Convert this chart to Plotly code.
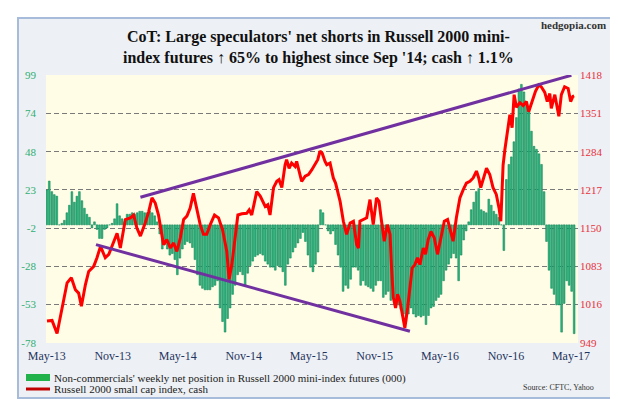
import datetime as dt
import numpy as np
import plotly.graph_objects as go

# ---------------- data ----------------
start_date = dt.date(2013, 5, 7)  # first weekly observation (Tuesday)

# Non-commercials' weekly net position (000), one value per week
net_position = [23, 29, 22, 20, 19, 0, 1, 3, 8, 13,
                22, 15, 19, 22, 16, 11, 7, 5, -2, 2,
                -3, -9, -9, -3, -2, 0, 1, 4, 14, 6,
                4, 2, 7, 7, 8, 7, 8, 9, 9, 8,
                8, 9, 8, 6, 2, -6, -16, -13, -16, -20,
                -19, -23, -33, -22, -16, -13, -11, -12, -15, -23,
                -33, -40, -42, -43, -43, -43, -41, -40, -37, -55,
                -64, -71, -62, -55, -46, -40, -33, -31, -33, -40,
                -32, -27, -24, -21, -20, -19, -20, -24, -26, -28,
                -28, -30, -27, -28, -31, -40, -26, -22, -18, -15,
                -12, -9, -5, -11, -20, -28, -31, -26, -18, 10,
                8, 0, -4, -6, -4, -13, -20, -28, -44, -40,
                -42, -36, -28, -28, -30, -40, -37, -40, -41, -42,
                -44, -40, -37, -37, -48, -46, -44, -50, -48, -50,
                -53, -56, -59, -64, -59, -55, -59, -61, -60, -61,
                -60, -66, -60, -55, -54, -50, -48, -46, -37, -30,
                -26, -22, -19, -22, -37, -20, -10, -4, 2, 10,
                15, 22, 24, 10, 9, 8, 17, 13, 9, 7,
                5, 0, -17, 30, 40, 45, 55, 71, 90, 93,
                88, 81, 75, 62, 52, 50, 47, 40, 22, -11,
                -30, -42, -46, -53, -53, -71, -52, -37, -40, -44, -72]

# Russell 2000 cash: (weeks since start, index level)
r2k_week = [0.1, 2.1, 4.1, 6.8, 8.1, 9.8, 11.4, 12.7, 13.8, 15.4,
            16.7, 18.7, 20.0, 21.4, 22.0, 23.3, 24.7, 26.6, 28.0, 29.3,
            30.6, 31.3, 33.3, 34.6, 35.9, 37.3, 39.2, 40.6, 41.9, 43.2,
            44.5, 46.5, 47.8, 49.2, 50.5, 51.8, 53.2, 54.5, 55.8, 57.1,
            58.4, 59.8, 61.1, 62.4, 63.7, 65.1, 66.8, 68.4, 70.0, 71.7,
            72.6, 73.7, 75.0, 76.1, 77.7, 79.6, 80.6, 81.6, 83.6, 85.0,
            87.0, 88.0, 88.9, 90.3, 91.6, 92.5, 93.6, 94.9, 95.5, 96.5,
            97.5, 98.9, 99.5, 100.2, 101.5, 102.9, 104.2, 105.5, 106.8, 107.9,
            108.8, 109.7, 110.8, 111.5, 112.8, 114.1, 115.0, 116.1, 116.8, 118.1,
            119.4, 120.8, 122.1, 123.4, 124.1, 124.7, 126.0, 127.4, 128.7, 130.0,
            131.3, 132.3, 133.3, 134.4, 135.6, 136.7, 137.3, 138.0, 138.9, 139.7,
            140.6, 141.6, 142.6, 143.7, 144.6, 145.5, 146.6, 147.6, 148.6, 149.9,
            150.8, 151.9, 153.0, 154.3, 155.6, 156.9, 158.3, 159.6, 160.9, 161.8,
            163.1, 164.5, 165.8, 167.1, 168.5, 169.8, 171.1, 172.0, 172.8, 173.8,
            175.1, 176.4, 177.7, 179.0, 180.1, 180.8, 181.7, 182.4, 183.4, 184.4,
            185.3, 186.1, 187.0, 188.4, 189.7, 191.0, 191.9, 193.3, 194.6, 195.9,
            196.9, 198.3, 199.3, 200.3, 200.9, 202.3, 203.9, 204.9, 206.2, 207.6,
            208.6, 209.5, 210.0]
r2k_value = [987, 988, 965, 1028, 1054, 1063, 1042, 1036, 1013, 1051,
             1074, 1083, 1098, 1118, 1112, 1098, 1104, 1124, 1141, 1115,
             1150, 1165, 1168, 1173, 1150, 1136, 1159, 1179, 1203, 1194,
             1173, 1121, 1130, 1115, 1124, 1109, 1133, 1165, 1171, 1185,
             1211, 1182, 1156, 1139, 1139, 1156, 1173, 1168, 1147, 1109,
             1060, 1086, 1133, 1173, 1175, 1176, 1182, 1173, 1214, 1206,
             1188, 1191, 1173, 1221, 1232, 1235, 1221, 1261, 1270, 1255,
             1264, 1258, 1267, 1255, 1232, 1241, 1244, 1252, 1261, 1270,
             1285, 1281, 1267, 1261, 1264, 1238, 1229, 1209, 1197, 1162,
             1139, 1159, 1162, 1121, 1115, 1162, 1165, 1168, 1200, 1156,
             1203, 1197, 1162, 1127, 1156, 1139, 1080, 1028, 1010, 1034,
             1022, 999, 975, 1010, 1045, 1080, 1086, 1098, 1086, 1115,
             1104, 1130, 1144, 1133, 1104, 1133, 1162, 1165, 1144, 1127,
             1168, 1203, 1217, 1229, 1232, 1238, 1250, 1238, 1221, 1238,
             1255, 1244, 1221, 1209, 1185, 1162, 1260, 1287, 1314, 1349,
             1326, 1384, 1362, 1370, 1365, 1372, 1354, 1375, 1390, 1401,
             1398, 1388, 1372, 1386, 1360, 1384, 1346, 1384, 1398, 1395,
             1372, 1381, 1382]

# Hand-drawn trend lines (weeks since start, index level)
upper_trend_week = [37.3, 208.9]
upper_trend_value = [1204, 1418]
lower_trend_week = [19.6, 144.6]
lower_trend_value = [1121, 969]

left_tick_labels = ["-78", "-53", "-28", "-2", "23", "48", "74", "99"]
right_tick_values = [949, 1016, 1083, 1150, 1217, 1284, 1351, 1418]

title_line1 = "CoT: Large speculators' net shorts in Russell 2000 mini-"
title_line2 = "index futures \u2191 65% to highest since Sep '14; cash \u2191 1.1%"
legend_bar = "Non-commercials' weekly net position in Russell 2000 mini-index futures (000)"
legend_line = "Russell 2000 small cap index, cash"
source_text = "Source: CFTC, Yahoo"
brand_text = "hedgopia.com"


def week_to_date(w):
    return dt.datetime.combine(start_date, dt.time()) + dt.timedelta(days=7 * w)


bar_dates = [week_to_date(i) for i in range(len(net_position))]
r2k_dates = [week_to_date(w) for w in r2k_week]
upper_dates = [week_to_date(w) for w in upper_trend_week]
lower_dates = [week_to_date(w) for w in lower_trend_week]

# ---------------- figure ----------------
W, H = 618, 399
L, R, T, B = 38, 570, 67, 335  # plot area in pixels


def px(x):
    return (x - L) / (R - L)


def py(y):
    return (B - y) / (B - T)


SERIF = "Liberation Serif"
FRAME_FILL = "#EDF0F4"
fig = go.Figure()

fig.add_trace(go.Bar(
    x=bar_dates, y=net_position, yaxis="y",
    marker=dict(color="#27B67C", line=dict(color="#0F7C52", width=0.5)),
    showlegend=False, hoverinfo="skip"))

fig.add_trace(go.Scatter(
    x=r2k_dates, y=r2k_value, yaxis="y2", mode="lines",
    line=dict(color="#FF0000", width=3), showlegend=False))

for d, v in ((upper_dates, upper_trend_value), (lower_dates, lower_trend_value)):
    fig.add_trace(go.Scatter(
        x=d, y=v, yaxis="y2", mode="lines",
        line=dict(color="#7030A0", width=3), showlegend=False))

x_end = week_to_date((R - L) / 2.515)
fig.update_layout(
    width=W, height=H,
    margin=dict(l=L, r=W - R, t=T, b=H - B, pad=0),
    paper_bgcolor=FRAME_FILL,
    plot_bgcolor="#FFFDE6",
    bargap=0.3,
    font=dict(family=SERIF),
    xaxis=dict(
        type="date", range=[week_to_date(-0.3), x_end],
        tick0="2013-05-07", dtick="M6", tickformat="%b-%y",
        showgrid=False, zeroline=False, showline=False, ticks="",
        tickfont=dict(family=SERIF, size=12, color="#1F3560"),
        ticklabelstandoff=4),
    yaxis=dict(
        range=[-78.2, 99.2],
        tickvals=list(np.linspace(-78, 99, 8)), ticktext=left_tick_labels,
        showgrid=True, gridcolor="#7A7A7A", gridwidth=1, griddash="5px,3px",
        zeroline=False, showline=False, ticks="",
        tickfont=dict(family=SERIF, size=11, color="#2FAF72"),
        ticklabelstandoff=9),
    yaxis2=dict(
        range=[949 - 0.2 * 469 / 177, 1418 + 0.2 * 469 / 177],
        overlaying="y", side="right",
        tickvals=right_tick_values,
        showgrid=False, zeroline=False, showline=False, ticks="",
        tickfont=dict(family=SERIF, size=11, color="#E8303A"),
        ticklabelstandoff=1),
)

white = dict(type="rect", xref="paper", yref="paper", fillcolor="white",
             line=dict(width=0), layer="above")
shapes = [
    # white surround outside the light frame
    dict(white, x0=px(-5), x1=px(10), y0=py(404), y1=py(-5)),
    dict(white, x0=px(603), x1=px(625), y0=py(404), y1=py(-5)),
    dict(white, x0=px(-5), x1=px(625), y0=py(10), y1=py(-5)),
    dict(white, x0=px(-5), x1=px(625), y0=py(404), y1=py(390)),
    # frame border
    dict(type="rect", xref="paper", yref="paper",
         x0=px(10), x1=px(603), y0=py(390), y1=py(10),
         fillcolor="rgba(0,0,0,0)", line=dict(color="#A7BCDB", width=2),
         layer="above"),
    # legend swatches
    dict(type="rect", xref="paper", yref="paper",
         x0=px(18), x1=px(42), y0=py(373), y1=py(366),
         fillcolor="#22B24C", line=dict(width=0)),
    dict(type="line", xref="paper", yref="paper",
         x0=px(18), x1=px(42), y0=py(381), y1=py(381),
         line=dict(color="#C00000", width=3)),
]
fig.update_layout(shapes=shapes)

annotations = [
    dict(text="<b>" + title_line1 + "</b>", x=px(310), y=py(29),
         font=dict(family=SERIF, size=16, color="#111111")),
    dict(text="<b>" + title_line2 + "</b>", x=px(310), y=py(50),
         font=dict(family=SERIF, size=16, color="#111111")),
    dict(text="<b>" + brand_text + "</b>", x=px(600), y=py(17), xanchor="right",
         font=dict(family=SERIF, size=11, color="#333333")),
    dict(text=legend_bar, x=px(44), y=py(370), xanchor="left",
         font=dict(family=SERIF, size=11, color="#222222")),
    dict(text=legend_line, x=px(44), y=py(381), xanchor="left",
         font=dict(family=SERIF, size=11, color="#222222")),
    dict(text=source_text, x=px(588), y=py(379), xanchor="right",
         font=dict(family=SERIF, size=8, color="#333333")),
]
for a in annotations:
    a.setdefault("xanchor", "center")
    a.update(xref="paper", yref="paper", yanchor="middle", showarrow=False)
fig.update_layout(annotations=annotations)

fig.write_html("out.html")
